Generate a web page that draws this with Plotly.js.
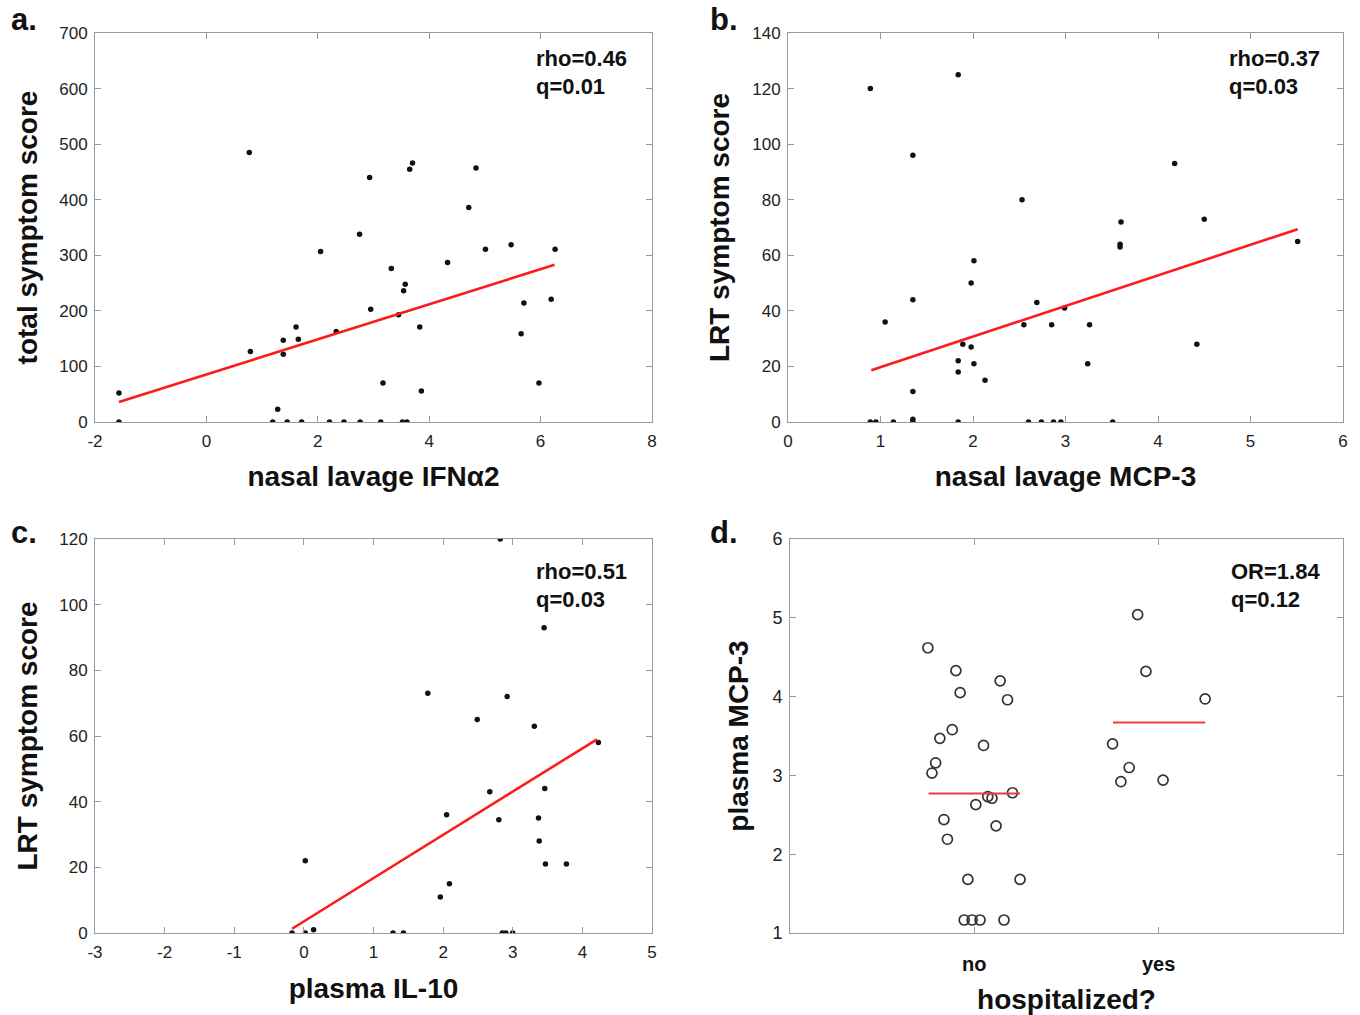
<!DOCTYPE html>
<html>
<head>
<meta charset="utf-8">
<script src="https://cdn.plot.ly/plotly-3.0.1.min.js"></script>
<style>html,body{margin:0;padding:0;background:#fff;}#chart{width:1360px;height:1015px;}</style>
</head>
<body>
<div id="chart"></div>
<script>
// ---- Panel a: nasal lavage IFNa2 vs total symptom score ----
const aX = [-1.57,-1.57,0.77,0.79,1.28,1.19,1.38,1.38,1.45,1.61,1.65,1.71,2.05,2.21,2.33,2.47,2.75,2.76,2.93,2.95,3.13,3.17,3.32,3.45,3.54,3.57,3.52,3.60,3.65,3.70,3.83,3.86,4.33,4.71,4.84,5.01,5.47,5.65,5.70,5.97,6.19,6.26];
const aY = [52,0,485,127,23,0,147,122,0,171,149,0,307,0,163,0,338,0,440,203,0,70,276,193,236,248,0,0,455,466,171,56,287,386,457,311,319,159,214,70,221,311];
const aFitX = [-1.57, 6.25];
const aFitY = [36, 283];
const aStats = ["rho=0.46", "q=0.01"];
const aXTickVals = [-2, 0, 2, 4, 6, 8];
const aXTickText = ["-2", "0", "2", "4", "6", "8"];

// ---- Panel b: nasal lavage MCP-3 vs LRT symptom score ----
const bX = [0.89,1.84,1.35,4.18,2.53,3.60,4.50,3.59,3.59,5.51,2.01,1.98,1.35,2.69,2.99,1.05,2.55,2.85,3.26,1.89,1.98,4.42,1.84,2.01,3.24,1.84,2.13,1.35,1.35,1.35,0.89,0.95,1.14,1.84,2.60,2.74,2.87,2.95,3.51];
const bY = [120,125,96,93,80,72,73,64,63,65,58,50,44,43,41,36,35,35,35,28,27,28,22,21,21,18,15,11,1,0,0,0,0,0,0,0,0,0,0];
const bFitX = [0.90, 5.51];
const bFitY = [18.6, 69.4];
const bStats = ["rho=0.37", "q=0.03"];

// ---- Panel c: plasma IL-10 vs LRT symptom score ----
const cX = [2.82,3.45,1.78,2.92,2.49,3.31,4.23,2.67,3.46,2.05,2.80,3.37,3.38,3.47,3.77,0.02,2.09,1.96,0.14,-0.17,0.02,1.28,1.43,2.85,2.90,3.00];
const cY = [120,93,73,72,65,63,58,43,44,36,34.5,35,28,21,21,22,15,11,1,0,0,0,0,0,0,0];
const cFitX = [-0.17, 4.21];
const cFitY = [1.3, 59];
const cStats = ["rho=0.51", "q=0.03"];
const cXTickVals = [-3, -2, -1, 0, 1, 2, 3, 4, 5];
const cXTickText = ["-3", "-2", "-1", "0", "1", "2", "3", "4", "5"];

// ---- Panel d: hospitalized? vs plasma MCP-3 ----
const dCategories = ["no", "yes"];
const dNoX = [0.748,0.900,1.140,0.923,1.180,0.880,0.813,1.050,0.790,0.770,1.207,1.073,1.096,1.008,0.835,1.118,0.854,0.965,1.248,0.945,0.988,1.031,1.161];
const dNoY = [4.62,4.33,4.20,4.05,3.96,3.58,3.47,3.38,3.16,3.03,2.78,2.73,2.71,2.63,2.44,2.36,2.19,1.68,1.68,1.165,1.165,1.165,1.165];
const dYesX = [1.886,1.931,2.252,1.750,1.840,1.795,2.024];
const dYesY = [5.04,4.32,3.97,3.40,3.10,2.92,2.94];
const dNoMedianX = [0.752, 1.248];
const dNoMedianY = [2.77, 2.77];
const dYesMedianX = [1.752, 2.252];
const dYesMedianY = [3.67, 3.67];
const dStats = ["OR=1.84", "q=0.12"];

const FONT = "Liberation Sans, Arial, Helvetica, sans-serif";
const dot = {color: "#111", size: 5.5};
const fitLine = {color: "#ff1a1a", width: 2.6};
const ring = {symbol: "circle-open", size: 10, color: "#333", line: {width: 1.7, color: "#333"}};

const traces = [
  {x: aX, y: aY, xaxis: "x", yaxis: "y", mode: "markers", type: "scatter", marker: dot, name: "a"},
  {x: aFitX, y: aFitY, xaxis: "x", yaxis: "y", mode: "lines", type: "scatter", line: fitLine, name: "a fit"},
  {x: bX, y: bY, xaxis: "x2", yaxis: "y2", mode: "markers", type: "scatter", marker: dot, name: "b"},
  {x: bFitX, y: bFitY, xaxis: "x2", yaxis: "y2", mode: "lines", type: "scatter", line: fitLine, name: "b fit"},
  {x: cX, y: cY, xaxis: "x3", yaxis: "y3", mode: "markers", type: "scatter", marker: dot, name: "c"},
  {x: cFitX, y: cFitY, xaxis: "x3", yaxis: "y3", mode: "lines", type: "scatter", line: fitLine, name: "c fit"},
  {x: dNoX, y: dNoY, xaxis: "x4", yaxis: "y4", mode: "markers", type: "scatter", name: "no", marker: ring},
  {x: dYesX, y: dYesY, xaxis: "x4", yaxis: "y4", mode: "markers", type: "scatter", name: "yes", marker: ring},
  {x: dNoMedianX, y: dNoMedianY, xaxis: "x4", yaxis: "y4", mode: "lines", type: "scatter", name: "median no",
   line: {color: "#ee3b3b", width: 2}},
  {x: dYesMedianX, y: dYesMedianY, xaxis: "x4", yaxis: "y4", mode: "lines", type: "scatter", name: "median yes",
   line: {color: "#ee3b3b", width: 2}}
];

// page-pixel helpers
const W = 1360, H = 1015;
const ML = 95, MR = 17, MT = 33, MB = 82;
const PW = W - ML - MR, PH = H - MT - MB;
const dx = (p0, p1) => [(p0 - ML) / PW, (p1 - ML) / PW];
const dy = (top, bot) => [(H - MB - bot) / PH, (H - MB - top) / PH];

function axisBase(extra) {
  return Object.assign({
    showline: true, mirror: "ticks", linecolor: "#9a9a9a", linewidth: 1,
    ticks: "inside", ticklen: 6, tickcolor: "#9a9a9a", tickwidth: 1,
    showgrid: false, zeroline: false, automargin: true,
    tickfont: {family: FONT, size: 17, color: "#222"}
  }, extra);
}
const titleFont = {family: FONT, size: 28, color: "#111", weight: "bold"};

const layout = {
  width: W, height: H,
  margin: {l: ML, r: MR, t: MT, b: MB},
  paper_bgcolor: "#fff", plot_bgcolor: "#fff",
  showlegend: false,
  font: {family: FONT, color: "#222"},
  xaxis: axisBase({domain: dx(95, 652), anchor: "y", range: [-2, 8], tickvals: aXTickVals, ticktext: aXTickText, ticklabelstandoff: 4,
    automargin: false, title: {text: "nasal lavage IFN\u03b12", font: titleFont, standoff: 15}}),
  yaxis: axisBase({domain: dy(33, 422), anchor: "x", range: [0, 700], dtick: 100, ticklabelstandoff: 3,
    title: {text: "total symptom score", font: titleFont, standoff: 13}}),
  xaxis2: axisBase({domain: dx(788, 1343), anchor: "y2", range: [0, 6], dtick: 1, ticklabelstandoff: 4,
    automargin: false, title: {text: "nasal lavage MCP-3", font: titleFont, standoff: 15}}),
  yaxis2: axisBase({domain: dy(33, 422), anchor: "x2", range: [0, 140], dtick: 20, ticklabelstandoff: 3,
    title: {text: "LRT symptom score", font: titleFont, standoff: 14}}),
  xaxis3: axisBase({domain: dx(95, 652), anchor: "y3", range: [-3, 5], tickvals: cXTickVals, ticktext: cXTickText, ticklabelstandoff: 4,
    automargin: false, title: {text: "plasma IL-10", font: titleFont, standoff: 16}}),
  yaxis3: axisBase({domain: dy(539, 933), anchor: "x3", range: [0, 120], dtick: 20, ticklabelstandoff: 3,
    title: {text: "LRT symptom score", font: titleFont, standoff: 13}}),
  xaxis4: axisBase({domain: dx(790, 1343), anchor: "y4", range: [0, 3], tickvals: [1, 2], ticktext: dCategories,
    ticklabelstandoff: 13, tickfont: {family: FONT, size: 20, color: "#111", weight: "bold"},
    automargin: false, title: {text: "hospitalized?", font: titleFont, standoff: 15}}),
  yaxis4: axisBase({domain: dy(539, 933), anchor: "x4", range: [1, 6], dtick: 1, ticklabelstandoff: 3,
    tickfont: {family: FONT, size: 18, color: "#222"},
    title: {text: "plasma MCP-3", font: titleFont, standoff: 15}}),
  annotations: []
};

const panelLabels = [["a.", 24, 20], ["b.", 724, 20], ["c.", 24, 532], ["d.", 724, 532]];
panelLabels.forEach(([t, px, py]) => {
  layout.annotations.push({text: t, xref: "paper", yref: "paper",
    x: (px - ML) / PW, y: (H - MB - py) / PH, xanchor: "center", yanchor: "middle", showarrow: false,
    font: {family: FONT, size: 31, color: "#111", weight: "bold"}});
});

const stats = [[aStats, 534, 58], [bStats, 1227, 58], [cStats, 534, 571], [dStats, 1229, 571]];
stats.forEach(([lines, px, py]) => {
  lines.forEach((t, i) => {
    layout.annotations.push({text: t, xref: "paper", yref: "paper",
      x: (px - ML) / PW, y: (H - MB - (py + i * 28)) / PH, xanchor: "left", yanchor: "middle", showarrow: false,
      font: {family: FONT, size: 22, color: "#111", weight: "bold"}});
  });
});

Plotly.newPlot("chart", traces, layout, {staticPlot: true, displayModeBar: false});
</script>
</body>
</html>
